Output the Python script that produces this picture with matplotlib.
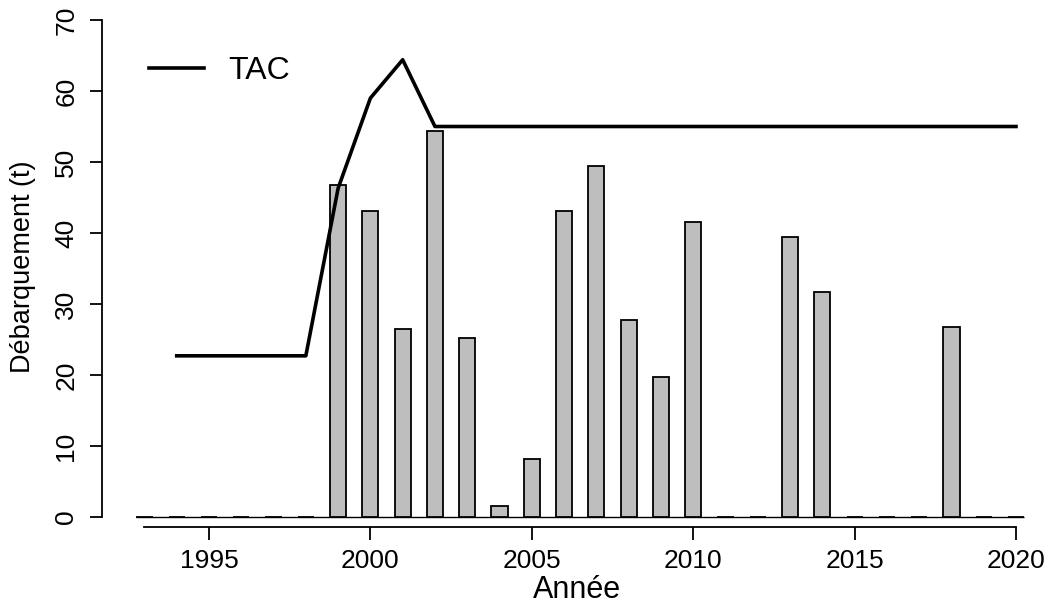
import numpy as np
import matplotlib
matplotlib.use("Agg")
import matplotlib.pyplot as plt

plt.rcParams['font.family'] = ['Liberation Sans', 'DejaVu Sans']

# débarquements annuels (t)
annees = list(range(1993, 2021))
debarquement = [0, 0, 0, 0, 0, 0, 46.7, 43.1, 26.5, 54.3, 25.2, 1.5, 8.1,
                43.1, 49.5, 27.8, 19.7, 41.5, 0, 0, 39.4, 31.7, 0, 0, 0,
                26.7, 0, 0]

# TAC
tac_annees = [1994, 1995, 1996, 1997, 1998, 1999, 2000, 2001, 2002, 2003,
              2005, 2010, 2015, 2020]
tac = [22.7, 22.7, 22.7, 22.7, 22.7, 46.3, 59.0, 64.4, 55.0, 55.0,
       55.0, 55.0, 55.0, 55.0]

fig = plt.figure(figsize=(10.5, 6.07), dpi=100)
ax = fig.add_axes([102/1050, 1 - 527/607, (1040 - 102)/1050, (527 - 20)/607])

ax.hlines(0, 1992.75, 2020.25, color='black', lw=1)
ax.bar(annees, debarquement, width=0.5, color='#bebebe', edgecolor='black',
       linewidth=1.3, zorder=2)
ax.plot(tac_annees, tac, color='black', lw=2.6, label='TAC', zorder=3)

x0 = 1995 + (102 - 209) / 32.28
x1 = 1995 + (1040 - 209) / 32.28
ax.set_xlim(x0, x1)
ax.set_ylim(-1.41, 70)

for s in ['top', 'right']:
    ax.spines[s].set_visible(False)
ax.spines['left'].set_bounds(0, 70)
ax.spines['bottom'].set_bounds(1993, 2020)
ax.spines['left'].set_linewidth(1.3)
ax.spines['bottom'].set_linewidth(1.3)

ax.set_xticks([1995, 2000, 2005, 2010, 2015, 2020])
ax.set_yticks(range(0, 71, 10))
ax.tick_params(axis='both', labelsize=19, length=9, width=1.3)
ax.tick_params(axis='x', pad=6.5)
ax.tick_params(axis='y', labelrotation=90, pad=8)
for lab in ax.get_yticklabels():
    lab.set_verticalalignment('center')

ax.set_xlabel('Année', fontsize=22, labelpad=2)
ax.xaxis.label.set_x(0.506)
ax.set_ylabel('Débarquement (t)', fontsize=19.5, labelpad=13)
ax.yaxis.label.set_y(0.513)

ax.legend(loc='upper left', bbox_to_anchor=(0.019, 0.985), frameon=False,
          fontsize=23, handlelength=1.75, handletextpad=0.75)

fig.savefig('out.png', dpi=100)
